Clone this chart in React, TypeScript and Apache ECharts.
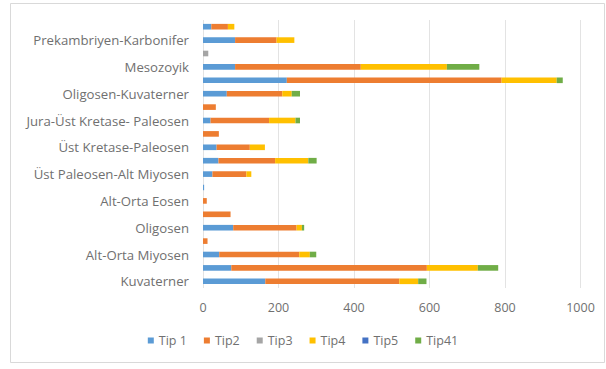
import React, { useEffect, useRef } from "react";
import * as echarts from "echarts";

const categories = [
  "Kuvaterner",
  "Kuvaterner (2)",
  "Alt-Orta Miyosen",
  "Alt-Orta Miyosen (2)",
  "Oligosen",
  "Oligosen (2)",
  "Alt-Orta Eosen",
  "Alt-Orta Eosen (2)",
  "Üst Paleosen-Alt Miyosen",
  "Üst Paleosen-Alt Miyosen (2)",
  "Üst Kretase-Paleosen",
  "Üst Kretase-Paleosen (2)",
  "Jura-Üst Kretase- Paleosen",
  "Jura-Üst Kretase- Paleosen (2)",
  "Oligosen-Kuvaterner",
  "Oligosen-Kuvaterner (2)",
  "Mesozoyik",
  "Mesozoyik (2)",
  "Prekambriyen-Karbonifer",
  "Prekambriyen-Karbonifer (2)",
];

const tip1 = [165, 75, 43, 0, 80, 0, 0, 3, 25, 41, 36, 0, 20, 0, 63, 222, 85, 0, 85, 22];
const tip2 = [355, 518, 212, 12, 168, 73, 10, 0, 90, 150, 88, 42, 155, 34, 147, 569, 333, 0, 110, 44];
const tip3 = [0, 0, 0, 0, 0, 0, 0, 0, 0, 0, 0, 0, 0, 0, 0, 0, 0, 14, 0, 0];
const tip4 = [50, 135, 28, 0, 14, 0, 0, 0, 13, 88, 40, 0, 70, 0, 25, 146, 228, 0, 47, 17];
const tip5 = [0, 0, 0, 0, 0, 0, 0, 0, 0, 0, 0, 0, 0, 0, 0, 0, 0, 0, 0, 0];
const tip41 = [22, 54, 17, 0, 6, 0, 0, 0, 0, 22, 0, 0, 12, 0, 22, 16, 86, 0, 0, 0];

const seriesNames = ["Tip 1", "Tip2", "Tip3", "Tip4", "Tip5", "Tip41"];
const seriesValues = [tip1, tip2, tip3, tip4, tip5, tip41];
const colors = ["#5B9BD5", "#ED7D31", "#A5A5A5", "#FFC000", "#4472C4", "#70AD47"];

const xTicks = { min: 0, max: 1000, interval: 200 };

const FONT = "'Open Sans', 'Liberation Sans', sans-serif";
const TEXT = "#707070";

export default function App() {
  const ref = useRef<HTMLDivElement>(null);
  useEffect(() => {
    if (!ref.current) return;
    const chart = echarts.init(ref.current, undefined, { renderer: "svg" });
    chart.setOption({
      animation: false,
      backgroundColor: "#ffffff",
      color: colors,
      textStyle: { fontFamily: FONT },
      graphic: [
        {
          type: "rect",
          shape: { x: 10.5, y: 3.5, width: 594, height: 359 },
          style: { fill: "none", stroke: "#d9d9d9", lineWidth: 1 },
          silent: true,
        },
      ],
      grid: { left: 203, right: 25.5, top: 20, bottom: 81, containLabel: false },
      legend: {
        bottom: 17,
        left: "center",
        icon: "rect",
        itemWidth: 6,
        itemHeight: 6,
        itemGap: 17,
        textStyle: { color: TEXT, fontSize: 12.5, fontFamily: FONT },
        data: seriesNames,
      },
      xAxis: {
        type: "value",
        min: xTicks.min,
        max: xTicks.max,
        interval: xTicks.interval,
        axisLine: { show: false },
        axisTick: { show: false },
        axisLabel: {
          color: TEXT,
          fontSize: 12.5,
          margin: 13,
          fontFamily: FONT,
          formatter: (v: number) => String(v),
        },
        splitLine: { show: true, lineStyle: { color: "#e3e3e3", width: 1 } },
      },
      yAxis: {
        type: "category",
        data: categories,
        axisLine: { show: false },
        axisTick: { show: false },
        axisLabel: { color: TEXT, fontSize: 13.2, margin: 14, interval: 1, fontFamily: FONT },
        splitLine: { show: false },
      },
      series: seriesNames.map((name, i) => ({
        name,
        type: "bar",
        stack: "total",
        barCategoryGap: "58%",
        data: seriesValues[i],
        itemStyle: { color: colors[i] },
      })),
    });
    return () => chart.dispose();
  }, []);
  return (
    <div style={{ position: "absolute", left: 0, top: 0, width: 606, height: 369 }}>
      <div ref={ref} style={{ width: 606, height: 369 }} />
    </div>
  );
}
